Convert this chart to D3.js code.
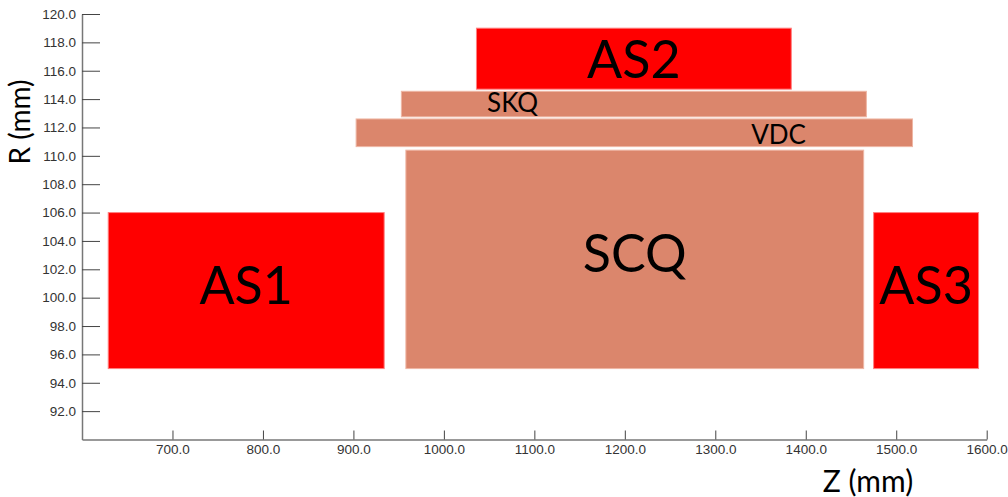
<!DOCTYPE html>
<html>
<head>
<meta charset="utf-8">
<script src="https://cdn.jsdelivr.net/npm/d3@7"></script>
<style>
  body { margin: 0; background: #fff; }
  svg { display: block; }
</style>
</head>
<body>
<div id="chart"></div>
<script>
// Detector layout in the Z-R plane: each block is a rectangle in mm.

// 1) Data
const names  = ["AS1", "AS2", "AS3", "SKQ", "VDC", "SCQ"];
const kinds  = ["shield", "shield", "shield", "magnet", "magnet", "magnet"];
const zStart = [629, 1036, 1475, 953, 903, 958];
const zEnd   = [934, 1384, 1591, 1467, 1518, 1464];
const rLow   = [95.0, 114.7, 95.0, 112.75, 110.65, 95.0];
const rHigh  = [106.0, 119.0, 106.0, 114.55, 112.6, 110.4];
// where each name is written (mm); null = centre of the block
const labelZ = [null, null, null, 1076, 1370, null];
const labelR = [null, 115.5, null, 113.1, 110.85, null];

const xTicks = [700, 800, 900, 1000, 1100, 1200, 1300, 1400, 1500, 1600];
const yTicks = [92, 94, 96, 98, 100, 102, 104, 106, 108, 110, 112, 114, 116, 118, 120];

// 2) Dimensions
const width = 1008, height = 497;
const svg = d3.select("#chart").append("svg")
  .attr("width", width)
  .attr("height", height);

// 3) Scales
const x = d3.scaleLinear().domain([600, 1600]).range([82, 986.7]);
const y = d3.scaleLinear().domain([90, 120]).range([439.5, 14]);
const fill = d3.scaleOrdinal().domain(["shield", "magnet"]).range(["#ff0000", "#db866c"]);
const edge = d3.scaleOrdinal().domain(["shield", "magnet"]).range(["#ff8080", "#eeb6a4"]);

const blocks = names.map((n, i) => ({
  name: n, kind: kinds[i],
  z0: zStart[i], z1: zEnd[i], r0: rLow[i], r1: rHigh[i],
  lz: labelZ[i], lr: labelR[i]
}));

// 4) Blocks
svg.append("g").selectAll("rect")
  .data(blocks)
  .enter().append("rect")
    .attr("x", d => x(d.z0))
    .attr("y", d => y(d.r1))
    .attr("width", d => x(d.z1) - x(d.z0))
    .attr("height", d => y(d.r0) - y(d.r1))
    .attr("fill", d => fill(d.kind))
    .attr("stroke", d => edge(d.kind))
    .attr("stroke-width", 1);

// 5) Labels
const big = ["AS1", "AS2", "AS3", "SCQ"];
svg.append("g").selectAll("text")
  .data(blocks)
  .enter().append("text")
    .attr("x", d => x(d.lz != null ? d.lz : (d.z0 + d.z1) / 2))
    .attr("y", d => d.lr != null ? y(d.lr) : y((d.r0 + d.r1) / 2))
    .attr("dy", d => d.lr != null ? 0 : "0.25em")
    .attr("text-anchor", "middle")
    .attr("font-family", "Lato, 'Open Sans', sans-serif")
    .attr("font-size", d => big.includes(d.name) ? 52 : 26)
    .attr("fill", "#000")
    .text(d => d.name);

// 6) Axes
const font = "'Liberation Sans', Arial, sans-serif";

const xAxis = svg.append("g")
  .attr("transform", `translate(0,${y(90)})`)
  .call(d3.axisBottom(x).tickValues(xTicks).tickFormat(d3.format(".1f"))
    .tickSizeInner(-9).tickSizeOuter(0).tickPadding(5));

const yAxis = svg.append("g")
  .attr("transform", `translate(${x(600)},0)`)
  .call(d3.axisLeft(y).tickValues(yTicks).tickFormat(d3.format(".1f"))
    .tickSizeInner(-18).tickSizeOuter(0).tickPadding(6));

[xAxis, yAxis].forEach(a => {
  a.select(".domain").attr("stroke", "#777").attr("stroke-width", 1.5);
  a.selectAll(".tick line").attr("stroke", "#444");
  a.selectAll(".tick text")
    .attr("font-family", font)
    .attr("font-size", 13.5)
    .attr("fill", "#333");
});

// Axis titles
svg.append("text")
  .attr("x", 868)
  .attr("y", 492)
  .attr("text-anchor", "middle")
  .attr("font-family", "Lato, 'Open Sans', sans-serif")
  .attr("font-size", 30)
  .attr("fill", "#000")
  .text("Z (mm)");

svg.append("text")
  .attr("transform", "translate(30,122) rotate(-90)")
  .attr("text-anchor", "middle")
  .attr("font-family", "Lato, 'Open Sans', sans-serif")
  .attr("font-size", 28)
  .attr("fill", "#000")
  .text("R (mm)");
</script>
</body>
</html>
